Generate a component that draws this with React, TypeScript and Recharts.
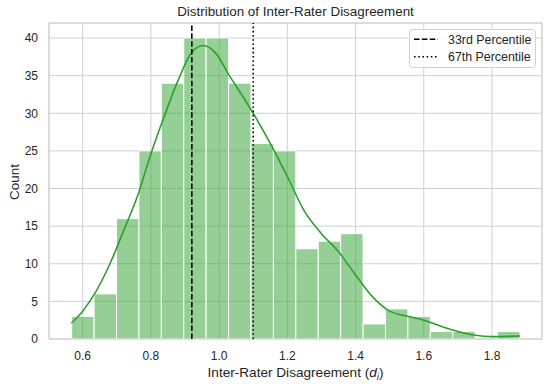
import { ComposedChart, Line, XAxis, YAxis, CartesianGrid, ReferenceArea, ReferenceLine, Legend } from 'recharts';

const FONT = '"Liberation Sans", Arial, sans-serif';
const TEXT = '#262626';
const GREEN = '#2ca02c';

// histogram: 20 bins
const binCounts = [3, 6, 16, 25, 34, 40, 40, 34, 26, 25, 12, 13, 14, 2, 4, 3, 1, 1, 0, 1];
const binStart = 0.5678;
const binWidth = 0.06571;

// kde curve
const kdeX = [0.567, 0.6, 0.64, 0.68, 0.72, 0.76, 0.8, 0.84, 0.88, 0.92, 0.953, 0.99, 1.03, 1.07, 1.1, 1.15, 1.2, 1.25, 1.3, 1.35, 1.4, 1.45, 1.5, 1.55, 1.6, 1.65, 1.7, 1.75, 1.8, 1.85, 1.882];
const kdeY = [2.1, 3.7, 6.4, 10.0, 14.4, 18.9, 24.6, 29.7, 34.4, 38.1, 39.0, 38.0, 35.0, 32.2, 30.0, 26.0, 21.6, 17.0, 14.0, 11.6, 8.5, 5.6, 3.7, 3.05, 2.5, 1.7, 1.0, 0.5, 0.32, 0.35, 0.4];

const xTicks = [0.6, 0.8, 1.0, 1.2, 1.4, 1.6, 1.8];
const yTicks = [0, 5, 10, 15, 20, 25, 30, 35, 40];

const p33 = 0.92;
const p67 = 1.1;

const xDomain: [number, number] = [0.5013, 1.9466];
const yDomain: [number, number] = [0, 42];

const kdeData = kdeX.map((x, i) => ({ x, y: kdeY[i] }));
const bins = binCounts.map((count, i) => ({
  x1: binStart + i * binWidth,
  x2: binStart + (i + 1) * binWidth,
  count,
}));

function PercentileLegend() {
  return (
    <svg width={127} height={39} style={{ display: 'block' }}>
      <rect x={0.5} y={0.5} width={126} height={38} rx={3} fill="#fff" fillOpacity={0.8} stroke="#d0d0d0" />
      <line x1={5} x2={29} y1={10.3} y2={10.3} stroke="#000" strokeWidth={1.6} strokeDasharray="5.5 2.4" />
      <text x={39} y={15} fontSize={12.4} fontFamily={FONT} fill={TEXT}>33rd Percentile</text>
      <line x1={5} x2={29} y1={27.7} y2={27.7} stroke="#000" strokeWidth={1.6} strokeDasharray="1.6 2.6" />
      <text x={39} y={32.4} fontSize={12.4} fontFamily={FONT} fill={TEXT}>67th Percentile</text>
    </svg>
  );
}

export default function App() {
  return (
    <div style={{ position: 'absolute', left: 0, top: 0, width: 550, height: 386, background: '#fff', fontFamily: FONT }}>
      <div
        style={{
          position: 'absolute',
          left: 49,
          width: 493,
          top: 5.4,
          textAlign: 'center',
          fontSize: 13.4,
          lineHeight: '13.4px',
          color: TEXT,
        }}
      >
        Distribution of Inter-Rater Disagreement
      </div>
      <ComposedChart width={550} height={386} data={kdeData} margin={{ top: 23, right: 8, bottom: 0, left: 0 }}>
        <CartesianGrid stroke="#d0d0d0" strokeWidth={1} />
        <XAxis
          dataKey="x"
          type="number"
          domain={xDomain}
          allowDataOverflow
          ticks={xTicks}
          tickFormatter={(v: number) => v.toFixed(1)}
          tick={{ fontSize: 12, fill: TEXT, fontFamily: FONT }}
          tickLine={false}
          axisLine={false}
          tickSize={6}
          tickMargin={6.5}
          height={47}
          label={{
            content: (props: any) => {
              const vb = props.viewBox || { x: 49, y: 339, width: 493 };
              return (
                <text x={vb.x + vb.width / 2} y={vb.y + 38} textAnchor="middle" fontSize={13.6} fontFamily={FONT} fill={TEXT}>
                  Inter-Rater Disagreement (<tspan fontStyle="italic">d</tspan>
                  <tspan fontStyle="italic" fontSize={9.5} dy={3}>i</tspan>
                  <tspan dy={-3}>)</tspan>
                </text>
              );
            },
          }}
        />
        <YAxis
          type="number"
          domain={yDomain}
          allowDataOverflow
          ticks={yTicks}
          tick={{ fontSize: 12, fill: TEXT, fontFamily: FONT }}
          tickLine={false}
          axisLine={false}
          tickSize={6}
          tickMargin={5}
          width={49}
          label={{
            content: () => (
              <text x={18.5} y={182} transform="rotate(-90, 18.5, 182)" textAnchor="middle" fontSize={13.4} fontFamily={FONT} fill={TEXT}>
                Count
              </text>
            ),
          }}
        />
        {bins
          .filter((b) => b.count > 0)
          .map((b, i) => (
            <ReferenceArea
              key={i}
              x1={b.x1}
              x2={b.x2}
              y1={0}
              y2={b.count}
              fill={GREEN}
              fillOpacity={0.5}
              stroke="#fff"
              strokeWidth={1}
              strokeOpacity={1}
            />
          ))}
        <Line type="monotone" dataKey="y" stroke={GREEN} strokeWidth={1.6} dot={false} isAnimationActive={false} />
        <ReferenceLine x={p33} stroke="#000" strokeWidth={1.6} strokeDasharray="5.5 2.4" />
        <ReferenceLine x={p67} stroke="#000" strokeWidth={1.6} strokeDasharray="1.6 2.6" />
        <ReferenceArea
          x1={xDomain[0]}
          x2={xDomain[1]}
          y1={yDomain[0]}
          y2={yDomain[1]}
          fill="none"
          fillOpacity={0}
          stroke="#d0d0d0"
          ifOverflow="visible"
        />
        <Legend
          layout="horizontal"
          verticalAlign="middle"
          align="center"
          content={() => <PercentileLegend />}
          wrapperStyle={{ position: 'absolute', left: 409, top: 29, width: 127, height: 39 }}
        />
      </ComposedChart>
    </div>
  );
}
